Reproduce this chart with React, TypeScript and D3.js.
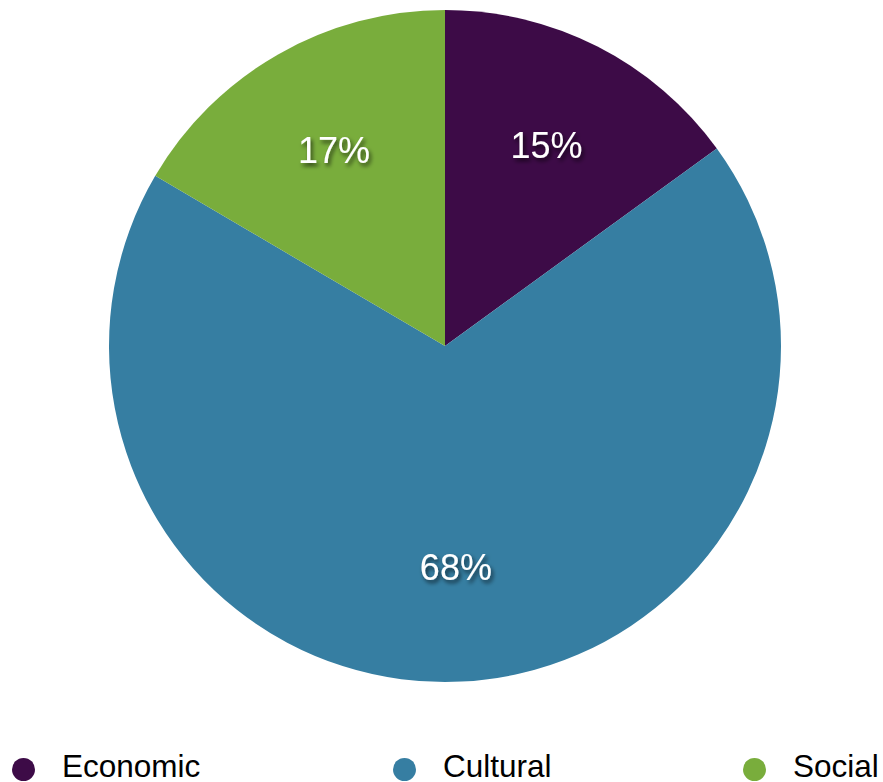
import React from "react";
import * as d3 from "d3";

const categories = ["Economic", "Cultural", "Social"];
const values = [15.0, 68.45, 16.55];
const colors = ["#3d0b47", "#367ea2", "#79ad3c"];

const W = 883;
const H = 782;
const cx = 445;
const cy = 346;
const R = 336;
const LEGEND_X = [23.5, 404.5, 754.5];

export default function App() {
  const pie = d3.pie<number>().sort(null).value((d) => d)(values);
  const arc = d3.arc<d3.PieArcDatum<number>>().innerRadius(0).outerRadius(R);
  const labelArc = d3.arc<d3.PieArcDatum<number>>().innerRadius(R * 0.665).outerRadius(R * 0.665);
  const total = d3.sum(values);

  return (
    <svg width={W} height={H} style={{ position: "absolute", left: 0, top: 0 }}
      fontFamily="'Liberation Sans', Arial, Helvetica, sans-serif">
      <defs>
        <filter id="ts" x="-20%" y="-20%" width="140%" height="160%">
          <feDropShadow dx="2" dy="3" stdDeviation="2" floodColor="#000" floodOpacity="0.65" />
        </filter>
      </defs>
      <g transform={`translate(${cx},${cy})`}>
        {pie.map((d, i) => (
          <path key={i} d={arc(d) || ""} fill={colors[i]} />
        ))}
        {pie.map((d, i) => {
          const [x, y] = labelArc.centroid(d);
          return (
            <text key={i} x={x} y={y} dy="0.3em" textAnchor="middle" fill="#fff"
              fontSize={36} filter="url(#ts)">
              {Math.round((d.value / total) * 100)}%
            </text>
          );
        })}
      </g>
      {categories.map((c, i) => (
        <g key={c} transform={`translate(${LEGEND_X[i]},769.5)`}>
          <circle r={11.5} fill={colors[i]} />
          <text x={38.5} y={7.5} fontSize={31.5} fill="#000">{c}</text>
        </g>
      ))}
    </svg>
  );
}
